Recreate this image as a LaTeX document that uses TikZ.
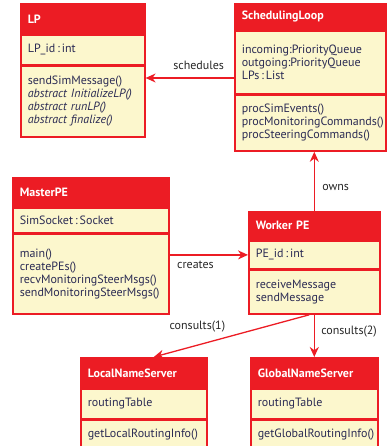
\documentclass[tikz,border=0pt]{standalone}
\usepackage{fontspec}
\setmainfont{PT Sans}
\usetikzlibrary{positioning,arrows.meta}
\definecolor{umlred}{HTML}{EC1C24}
\definecolor{umlfill}{HTML}{FCF7CD}
\definecolor{umltext}{HTML}{2B2B54}
\newcommand\umlfont{\fontsize{12}{13}\selectfont}
\tikzset{
  box/.style={draw=umlred, line width=1.6pt, inner xsep=7pt, inner ysep=0pt, align=left},
  classhead/.style={box, fill=umlred, text=white, font=\umlfont\bfseries, anchor=north west},
  classpart/.style={box, fill=umlfill, text=umltext, font=\umlfont, below=0pt of #1},
  rel/.style={draw=umlred, line width=1.3pt, -{Stealth[length=10pt,width=9pt]}},
  lbl/.style={text=black!85, font=\umlfont}
}
\begin{document}
\begin{tikzpicture}[x=1pt, y=-1pt]
\useasboundingbox (0,0) rectangle (386,446);
% LP
\node[classhead, text width=110pt, minimum height=30pt] (lp) at (20,3) {LP};
\node[classpart=lp, text width=110pt, minimum height=29pt] (lpattr) {LP\_id\,:\,int};
\node[classpart=lpattr, text width=110pt, minimum height=71pt] (lpmeth)
  {sendSimMessage()\\ \textit{abstract InitializeLP()}\\ \textit{abstract runLP()}\\ \textit{abstract finalize()}};

% SchedulingLoop
\node[classhead, text width=137pt, minimum height=26pt] (sched) at (234,3) {SchedulingLoop};
\node[classpart=sched, text width=137pt, minimum height=62pt] (schedattr)
  {incoming:PriorityQueue\\ outgoing:PriorityQueue\\ LPs\,:\,List};
\node[classpart=schedattr, text width=137pt, minimum height=56pt] (schedmeth)
  {procSimEvents()\\ procMonitoringCommands()\\ procSteeringCommands()};

% MasterPE
\node[classhead, text width=142pt, minimum height=29pt] (mp) at (12,177) {MasterPE};
\node[classpart=mp, text width=142pt, minimum height=24pt] (mpattr) {SimSocket\,:\,Socket};
\node[classpart=mpattr, text width=142pt, minimum height=80pt] (mpmeth)
  {main()\\ createPEs()\\ recvMonitoringSteerMsgs()\\ sendMonitoringSteerMsgs()};

% Worker PE
\node[classhead, text width=117pt, minimum height=28pt] (wp) at (248,211) {Worker PE};
\node[classpart=wp, text width=117pt, minimum height=27pt] (wpattr) {PE\_id\,:\,int};
\node[classpart=wpattr, text width=117pt, minimum height=44pt] (wpmeth)
  {receiveMessage\\ sendMessage};

% name servers
\node[classhead, text width=112pt, minimum height=30pt] (lns) at (80,357) {LocalNameServer};
\node[classpart=lns, text width=112pt, minimum height=29pt] (lnsattr) {routingTable};
\node[classpart=lnsattr, text width=112pt, minimum height=29pt] (lnsmeth) {getLocalRoutingInfo()};

\node[classhead, text width=113pt, minimum height=30pt] (gns) at (250,357) {GlobalNameServer};
\node[classpart=gns, text width=113pt, minimum height=29pt] (gnsattr) {routingTable};
\node[classpart=gnsattr, text width=113pt, minimum height=29pt] (gnsmeth) {getGlobalRoutingInfo()};

% relations
\coordinate (schedout) at (234,78);
\draw[rel] (schedout) -- (schedout -| lpmeth.east) node[lbl, pos=0.4, above=4pt] {schedules};
\draw[rel] (mpmeth.east |- wpattr.west) -- (wpattr.west) node[lbl, pos=0.33, below=2pt] {creates};
\draw[rel] (wp.north) -- (wp.north |- schedmeth.south) node[lbl, pos=0.4, right=4pt] {owns};
\draw[rel] ([xshift=-5pt]wpmeth.south) -- ([xshift=10pt]lns.north) node[lbl, pos=0.72, above=9pt] {consults(1)};
\draw[rel] (wpmeth.south) -- (gns.north) node[lbl, pos=0.4, right=3pt] {consults(2)};
\end{tikzpicture}
\end{document}
